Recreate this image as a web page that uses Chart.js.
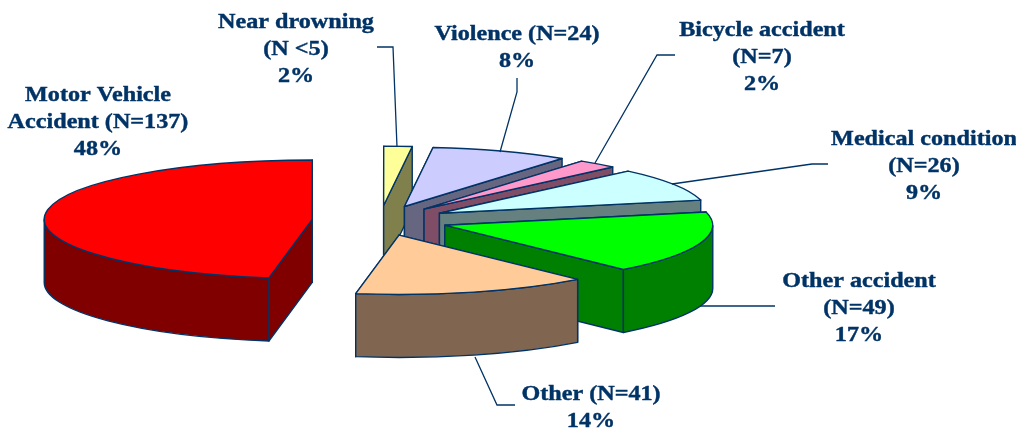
<!DOCTYPE html>
<html>
  <head>
    <title>Injury causes</title>
    <style>
      body { margin: 0; background: #fff; overflow: hidden; }
      canvas { display: block; }
    </style>
  </head>
  <body>
    <canvas id="pie" width="1016" height="429"></canvas>

    <script src="https://cdn.jsdelivr.net/npm/chart.js@4"></script>
    <script>
      // data (near drowning is only given as N <5)
      const categories = ['Motor Vehicle Accident', 'Near drowning', 'Violence', 'Bicycle accident', 'Medical condition', 'Other accident', 'Other'];
      const counts = [137, 4.9, 24, 7, 26, 49, 41];
      const labelLines = [
        ['Motor Vehicle', 'Accident (N=137)', '48%'],
        ['Near drowning', '(N <5)', '2%'],
        ['Violence (N=24)', '8%'],
        ['Bicycle accident', '(N=7)', '2%'],
        ['Medical condition', '(N=26)', '9%'],
        ['Other accident', '(N=49)', '17%'],
        ['Other (N=41)', '14%']
      ];

      // styles
      const topColors = ['#ff0000', '#ffff99', '#ccccff', '#ff99cc', '#ccffff', '#00ff00', '#ffcc99'];
      const sideColors = ['#800000', '#80804d', '#666680', '#804d66', '#668080', '#008000', '#806650'];
      const navy = '#003366';

      // 3d look of the pie
      const squash = 0.2216;
      const depth = 63;
      const explode = 68;

      // label centres and leader lines
      const labelX = [98, 296, 517, 762, 924, 859, 591];
      const labelY = [96, 23, 35, 31, 140, 282, 395];
      const lineHeight = 26.8;
      const textStretch = 1.15;
      const leaders = [
        [[377, 47], [393, 47], [397, 147]],
        [[517, 78], [517, 92], [500, 152]],
        [[675, 55], [657, 55], [595, 163]],
        [[828, 164], [812, 164], [672, 184]],
        [[775, 306], [700, 306]],
        [[515, 405], [497, 405], [475, 357]]
      ];

      function sliceGeometry(arc) {
        const mid = (arc.startAngle + arc.endAngle) / 2;
        return {
          x: arc.x + Math.cos(mid) * explode,
          y: arc.y + Math.sin(mid) * explode * squash,
          rx: arc.outerRadius,
          ry: arc.outerRadius * squash,
          a: arc.startAngle,
          b: arc.endAngle
        };
      }

      function drawWall(ctx, g, angle) {
        const px = g.x + Math.cos(angle) * g.rx;
        const py = g.y + Math.sin(angle) * g.ry;
        ctx.beginPath();
        ctx.moveTo(g.x, g.y);
        ctx.lineTo(px, py);
        ctx.lineTo(px, py + depth);
        ctx.lineTo(g.x, g.y + depth);
        ctx.closePath();
        ctx.fill();
        ctx.stroke();
      }

      // outer band, only the part that faces the viewer
      function drawRim(ctx, g) {
        for (let k = -1; k <= 1; k++) {
          const from = Math.max(g.a, k * 2 * Math.PI);
          const to = Math.min(g.b, k * 2 * Math.PI + Math.PI);
          if (to <= from) continue;
          ctx.beginPath();
          ctx.ellipse(g.x, g.y, g.rx, g.ry, 0, from, to);
          ctx.ellipse(g.x, g.y + depth, g.rx, g.ry, 0, to, from, true);
          ctx.closePath();
          ctx.fill();
          ctx.stroke();
        }
      }

      const pie3d = {
        id: 'pie3d',
        beforeDatasetDraw(chart, args) {
          const ctx = chart.ctx;
          const order = args.meta.data
            .map((arc, i) => ({ arc, i, g: sliceGeometry(arc) }))
            .sort((p, q) => p.g.y - q.g.y);

          order.forEach(({ arc, i, g }) => {
            ctx.save();
            ctx.lineWidth = 1.4;
            ctx.lineJoin = 'round';
            ctx.strokeStyle = navy;
            ctx.fillStyle = sideColors[i];
            drawWall(ctx, g, g.a);
            drawWall(ctx, g, g.b);
            drawRim(ctx, g);

            // the top is the library's own arc, moved out and flattened
            ctx.save();
            ctx.translate(g.x, g.y);
            ctx.scale(1, squash);
            ctx.translate(-arc.x, -arc.y);
            arc.draw(ctx);
            ctx.restore();

            ctx.beginPath();
            ctx.moveTo(g.x, g.y);
            ctx.ellipse(g.x, g.y, g.rx, g.ry, 0, g.a, g.b);
            ctx.closePath();
            ctx.stroke();
            ctx.restore();
          });
          return false;
        },
        afterDraw(chart) {
          const ctx = chart.ctx;
          ctx.save();
          ctx.strokeStyle = navy;
          ctx.lineWidth = 1.3;
          leaders.forEach(path => {
            ctx.beginPath();
            path.forEach((p, i) => i ? ctx.lineTo(p[0], p[1]) : ctx.moveTo(p[0], p[1]));
            ctx.stroke();
          });

          ctx.fillStyle = navy;
          ctx.lineWidth = 0.4;
          ctx.font = 'bold 21px "Liberation Serif"';
          ctx.textAlign = 'center';
          ctx.textBaseline = 'middle';
          labelLines.forEach((lines, i) => {
            lines.forEach((line, j) => {
              ctx.save();
              ctx.translate(labelX[i], labelY[i] + j * lineHeight);
              ctx.scale(textStretch, 1);
              ctx.fillText(line, 0, 0);
              ctx.strokeText(line, 0, 0);
              ctx.restore();
            });
          });
          ctx.restore();
        }
      };

      new Chart(document.getElementById('pie'), {
        type: 'pie',
        data: {
          labels: categories,
          datasets: [{
            data: counts,
            backgroundColor: topColors,
            borderWidth: 0,
            radius: 268
          }]
        },
        options: {
          responsive: false,
          animation: false,
          events: [],
          rotation: 189.3,
          layout: { padding: { right: 256, top: 12.2 } },
          plugins: { legend: { display: false }, tooltip: { enabled: false } }
        },
        plugins: [pie3d]
      });
    </script>
  </body>
</html>
